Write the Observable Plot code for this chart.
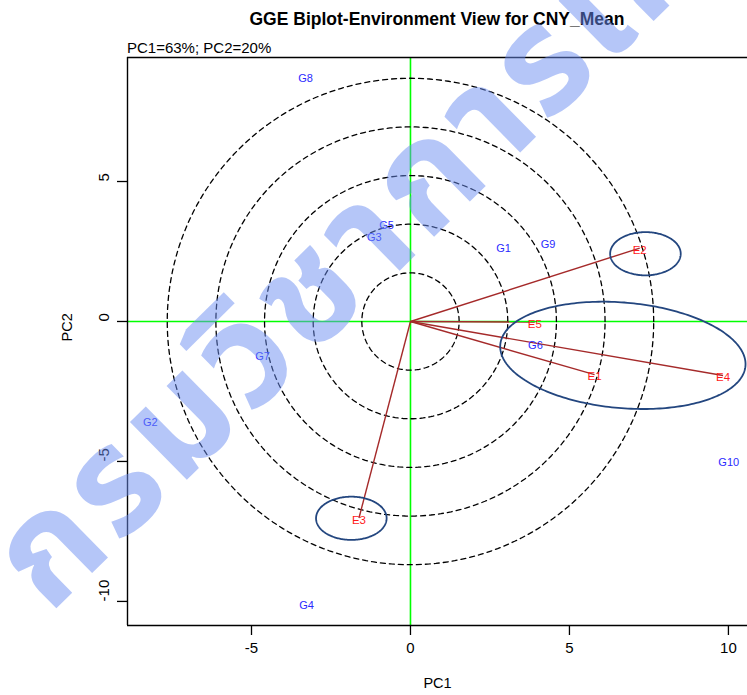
<!DOCTYPE html>
<html>
<head>
<meta charset="utf-8">
<script src="https://cdn.jsdelivr.net/npm/d3@7"></script>
<script src="https://cdn.jsdelivr.net/npm/@observablehq/plot@0.6"></script>
<style>
  html, body { margin: 0; padding: 0; background: white; }
  #wrap { position: relative; width: 747px; height: 695px; overflow: hidden; font-family: "Liberation Sans", Arial, sans-serif; }
  #title { position: absolute; left: 127px; width: 620px; top: 9px; text-align: center; font-weight: bold; font-size: 17.5px; color: #000; }
  #subtitle { position: absolute; left: 127px; top: 39px; font-size: 15px; color: #000; }
  #watermark { position: absolute; left: -34px; top: 530px; font-size: 148px; font-weight: bold; line-height: 1; white-space: nowrap; letter-spacing: 6px;
    color: rgba(107,142,242,0.5); transform: rotate(-44.5deg); transform-origin: 0 0; pointer-events: none;
    font-family: "Noto Sans Thai", "Loma", "Garuda", "Tlwg Typo", "Norasi", sans-serif; }
</style>
</head>
<body>
<div id="wrap">
  <div id="chart"></div>
  <div id="title">GGE Biplot-Environment View for CNY_Mean</div>
  <div id="subtitle">PC1=63%; PC2=20%</div>
  <div id="watermark">กรมวิชาการเกษตร</div>
</div>
<script>
// ---- data ----
const genotypes = ["G1","G2","G3","G4","G5","G6","G7","G8","G9","G10"];
const genoPC1 = [2.93, -8.18, -1.14, -3.27, -0.75, 3.93, -4.65, -3.30, 4.33, 10.01];
const genoPC2 = [2.62, -3.62, 3.00, -10.14, 3.44, -0.86, -1.25, 8.68, 2.75, -5.02];

const environments = ["E1","E2","E3","E4","E5"];
const envPC1 = [5.79, 7.21, -1.62, 9.83, 3.91];
const envPC2 = [-1.90, 2.62, -7.02, -1.93, -0.02];

// concentric rings (radius in PC1 units)
const ringRadii = [1.53, 3.06, 4.59, 6.12, 7.65];

// hand-drawn highlight ellipses (centre in data units, semi-axes in PC1 units, tilt in degrees)
const ellipseIds = ["A","B","C"];
const ellipseCX = [7.39, 6.68, -1.86];
const ellipseCY = [2.42, -1.21, -7.03];
const ellipseA = [1.11, 3.87, 1.11];
const ellipseB = [0.68, 1.66, 0.68];
const ellipseTilt = [0, -5, 0];

const xTicks = [-5, 0, 5, 10];
const yTicks = [-10, -5, 0, 5];
const xDomain = [-8.9, 10.6];
const yDomain = [-10.86, 9.43];

// ---- layout ----
const W = 747, H = 695;
const mL = 127, mR = 0, mT = 57, mB = 70;
const kx = (W - mL - mR) / (xDomain[1] - xDomain[0]);
const ky = (H - mT - mB) / (yDomain[1] - yDomain[0]);
const aspect = kx / ky;

const geno = genotypes.map((g, i) => ({name: g, x: genoPC1[i], y: genoPC2[i]}));
const envs = environments.map((e, i) => ({name: e, x: envPC1[i], y: envPC2[i]}));

const N = 240;
const ringPts = [];
ringRadii.forEach((r, k) => {
  for (let i = 0; i <= N; i++) {
    const t = 2 * Math.PI * i / N;
    ringPts.push({ring: k, x: r * Math.cos(t), y: r * aspect * Math.sin(t)});
  }
});

const ellPts = [];
ellipseIds.forEach((id, k) => {
  const th = ellipseTilt[k] * Math.PI / 180;
  for (let i = 0; i <= N; i++) {
    const t = 2 * Math.PI * i / N;
    const px = ellipseA[k] * Math.cos(t), py = ellipseB[k] * Math.sin(t);
    const rx = px * Math.cos(th) - py * Math.sin(th);
    const ry = px * Math.sin(th) + py * Math.cos(th);
    ellPts.push({id, x: ellipseCX[k] + rx, y: ellipseCY[k] + ry * aspect});
  }
});

const chart = Plot.plot({
  width: W, height: H,
  marginLeft: mL, marginRight: mR, marginTop: mT, marginBottom: mB,
  x: {domain: xDomain},
  y: {domain: yDomain},
  style: {fontFamily: '"Liberation Sans", Arial, sans-serif', background: "white", overflow: "visible"},
  marks: [
    Plot.ruleX([0], {stroke: "#00FF00", strokeWidth: 1.6}),
    Plot.ruleY([0], {stroke: "#00FF00", strokeWidth: 1.6}),
    Plot.line(ringPts, {x: "x", y: "y", z: "ring", stroke: "black", strokeWidth: 1.3, strokeDasharray: "5,4"}),
    Plot.link(envs, {x1: 0, y1: 0, x2: "x", y2: "y", stroke: "#A52A2A", strokeWidth: 1.4}),
    Plot.line(ellPts, {x: "x", y: "y", z: "id", stroke: "#23467F", strokeWidth: 1.8}),
    Plot.text(geno, {x: "x", y: "y", text: "name", fill: "#2A2AFF", fontSize: 11}),
    Plot.text(envs, {x: "x", y: "y", text: "name", fill: "#FF1A1A", fontSize: 11.5, dy: 2}),
    // frame (left, top, bottom)
    Plot.ruleX([xDomain[0]], {stroke: "black", strokeWidth: 1.4}),
    Plot.ruleY([yDomain[0], yDomain[1]], {stroke: "black", strokeWidth: 1.4}),
    // axes
    Plot.axisX({ticks: xTicks, tickSize: 10, tickPadding: 7, fontSize: 15, tickFormat: d => String(d), label: null, strokeWidth: 1.3}),
    Plot.axisY({ticks: yTicks, tickSize: 10, tickFormat: () => "", label: null, strokeWidth: 1.3}),
    Plot.text(yTicks, {y: d => d, text: d => String(d), frameAnchor: "left", dx: -23, rotate: -90, fontSize: 15, fill: "black"}),
    Plot.text(["PC1"], {frameAnchor: "bottom", dy: 62, text: d => d, fontSize: 14.5, fill: "black"}),
    Plot.text(["PC2"], {frameAnchor: "left", dx: -60, rotate: -90, text: d => d, fontSize: 14.5, fill: "black"})
  ]
});
document.getElementById("chart").appendChild(chart);
</script>
</body>
</html>
